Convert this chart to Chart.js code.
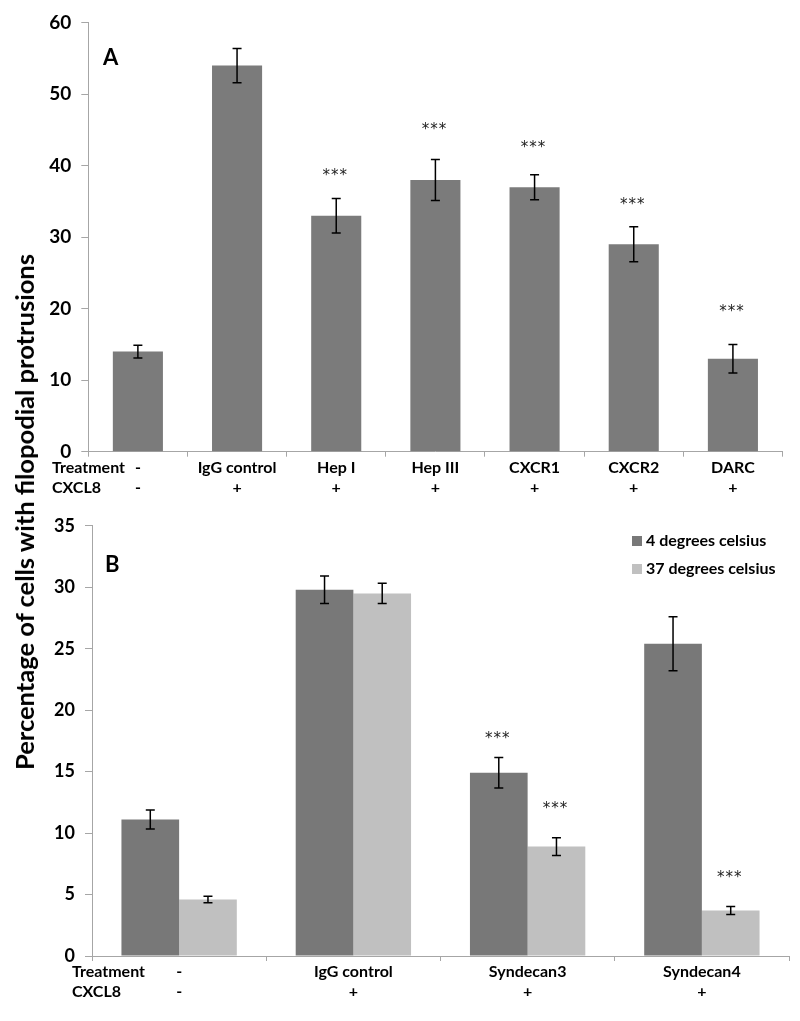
<!DOCTYPE html>
<html>
<head>
<meta charset="utf-8">
<script src="https://cdn.jsdelivr.net/npm/chart.js@4.4.1/dist/chart.umd.min.js"></script>
<style>
  body { margin: 0; background: #fff; }
  #wrap { position: relative; width: 800px; height: 1021px; overflow: hidden; }
  #cA { position: absolute; left: 0; top: 0; }
  #cB { position: absolute; left: 0; top: 505px; }
  #ytitle {
    position: absolute; left: 24px; top: 512px;
    transform: translate(-50%, -50%) rotate(-90deg);
    font: bold 25.5px Lato, sans-serif; white-space: nowrap; color: #000;
  }
</style>
</head>
<body>
<div id="wrap">
  <canvas id="cA" width="800" height="505"></canvas>
  <canvas id="cB" width="800" height="516"></canvas>
  <div id="ytitle">Percentage of cells with filopodial protrusions</div>
</div>
<script>
// panel A
const catsA = ['-', 'IgG control', 'Hep I', 'Hep III', 'CXCR1', 'CXCR2', 'DARC'];
const cxcl8A = ['-', '+', '+', '+', '+', '+', '+'];
const valsA = [14, 54, 33, 38, 37, 29, 13];
const errA = [0.9, 2.4, 2.4, 2.85, 1.75, 2.45, 2.0];
const starsA = [null, null, 39, 45.4, 42.9, 35, 20];

// panel B
const catsB = ['-', 'IgG control', 'Syndecan3', 'Syndecan4'];
const cxcl8B = ['-', '+', '+', '+'];
const vals4 = [11.1, 29.8, 14.9, 25.4];
const err4 = [0.77, 1.12, 1.24, 2.2];
const vals37 = [4.6, 29.5, 8.9, 3.7];
const err37 = [0.27, 0.83, 0.73, 0.32];
const stars4 = [null, null, 17.9, null];
const stars37 = [null, null, 12.2, 6.6];

const rowHeads = ['Treatment', 'CXCL8'];

const axisGrey = '#a6a6a6';
const FONT = 'Lato, sans-serif';

// error bars, stars, panel letter, row headers
const extras = {
  id: 'extras',
  afterDatasetsDraw(chart, args, opts) {
    const ctx = chart.ctx;
    const y = chart.scales.y;
    const x = chart.scales.x;
    ctx.save();
    chart.data.datasets.forEach((ds, di) => {
      const meta = chart.getDatasetMeta(di);
      meta.data.forEach((bar, i) => {
        const v = ds.data[i], e = ds.errors[i];
        const top = y.getPixelForValue(v + e), bot = y.getPixelForValue(v - e);
        ctx.strokeStyle = '#000';
        ctx.lineWidth = 1.5;
        ctx.beginPath();
        ctx.moveTo(bar.x, top); ctx.lineTo(bar.x, bot);
        ctx.moveTo(bar.x - 4.5, top); ctx.lineTo(bar.x + 4.5, top);
        ctx.moveTo(bar.x - 4.5, bot); ctx.lineTo(bar.x + 4.5, bot);
        ctx.stroke();
        const s = ds.stars[i];
        if (s != null) {
          ctx.fillStyle = '#222';
          ctx.font = '15px "DejaVu Sans", sans-serif';
          ctx.letterSpacing = '1px';
          ctx.textAlign = 'center';
          ctx.textBaseline = 'middle';
          ctx.fillText('***', bar.x - 1, y.getPixelForValue(s) + 3.5);
          ctx.letterSpacing = '0px';
        }
      });
    });
    ctx.fillStyle = '#000';
    ctx.font = 'bold 22px ' + FONT;
    ctx.textAlign = 'left';
    ctx.textBaseline = 'middle';
    ctx.fillText(opts.letter, opts.letterX, opts.letterY);
    ctx.font = 'bold 16px ' + FONT;
    rowHeads.forEach((t, r) => {
      ctx.fillText(t, opts.headX, x.top + 6 + 10 + 20 * r);
    });
    if (opts.legend) {
      chart.data.datasets.forEach((ds, di) => {
        const ly = opts.legendY + di * 28;
        ctx.fillStyle = ds.backgroundColor;
        ctx.fillRect(632, ly - 5, 10, 10);
        ctx.fillStyle = '#000';
        ctx.fillText(ds.label, 646, ly);
      });
    }
    ctx.restore();
  }
};

function axes(max, step, tickSize, yWidth, xHeight, cats, cx) {
  return {
    x: {
      grid: { display: true, drawOnChartArea: false, color: axisGrey, tickLength: 5, offset: true },
      border: { color: axisGrey, width: 1 },
      ticks: {
        color: '#000', padding: 1, maxRotation: 0, autoSkip: false,
        font: { family: FONT, size: 16, weight: 'bold', lineHeight: 1.25 },
        callback: (v, i) => [cats[i], cx[i]]
      },
      afterFit: s => { s.height = xHeight; }
    },
    y: {
      min: 0, max: max,
      grid: { display: true, drawOnChartArea: false, color: axisGrey, tickLength: 7 },
      border: { color: axisGrey, width: 1 },
      ticks: { stepSize: step, color: '#000', padding: 10, font: { family: FONT, size: tickSize, weight: 'bold' } },
      afterFit: s => { s.width = yWidth; }
    }
  };
}

new Chart(document.getElementById('cA'), {
  type: 'bar',
  data: {
    labels: catsA,
    datasets: [{
      label: 'A',
      data: valsA,
      errors: errA,
      stars: starsA,
      backgroundColor: '#7b7b7b',
      categoryPercentage: 1,
      barPercentage: 0.505
    }]
  },
  options: {
    responsive: false, animation: false,
    layout: { padding: { top: 22.7, right: 17.5, left: 0, bottom: 0 } },
    scales: axes(60, 10, 19, 88.3, 53.3, catsA, cxcl8A),
    plugins: {
      legend: { display: false }, tooltip: { enabled: false },
      extras: { letter: 'A', letterX: 103, letterY: 58, headX: 52 }
    }
  },
  plugins: [extras]
});

new Chart(document.getElementById('cB'), {
  type: 'bar',
  data: {
    labels: catsB,
    datasets: [{
      label: '4 degrees celsius',
      data: vals4,
      errors: err4,
      stars: stars4,
      backgroundColor: '#787878',
      categoryPercentage: 0.662,
      barPercentage: 1
    }, {
      label: '37 degrees celsius',
      data: vals37,
      errors: err37,
      stars: stars37,
      backgroundColor: '#c0c0c0',
      categoryPercentage: 0.662,
      barPercentage: 1
    }]
  },
  options: {
    responsive: false, animation: false,
    layout: { padding: { top: 18.3, right: 11, left: 0, bottom: 0 } },
    scales: axes(35, 5, 18, 92, 65, catsB, cxcl8B),
    plugins: {
      legend: { display: false }, tooltip: { enabled: false },
      extras: { letter: 'B', letterX: 105, letterY: 60, headX: 72, legend: true, legendY: 36 }
    }
  },
  plugins: [extras]
});
</script>
</body>
</html>
